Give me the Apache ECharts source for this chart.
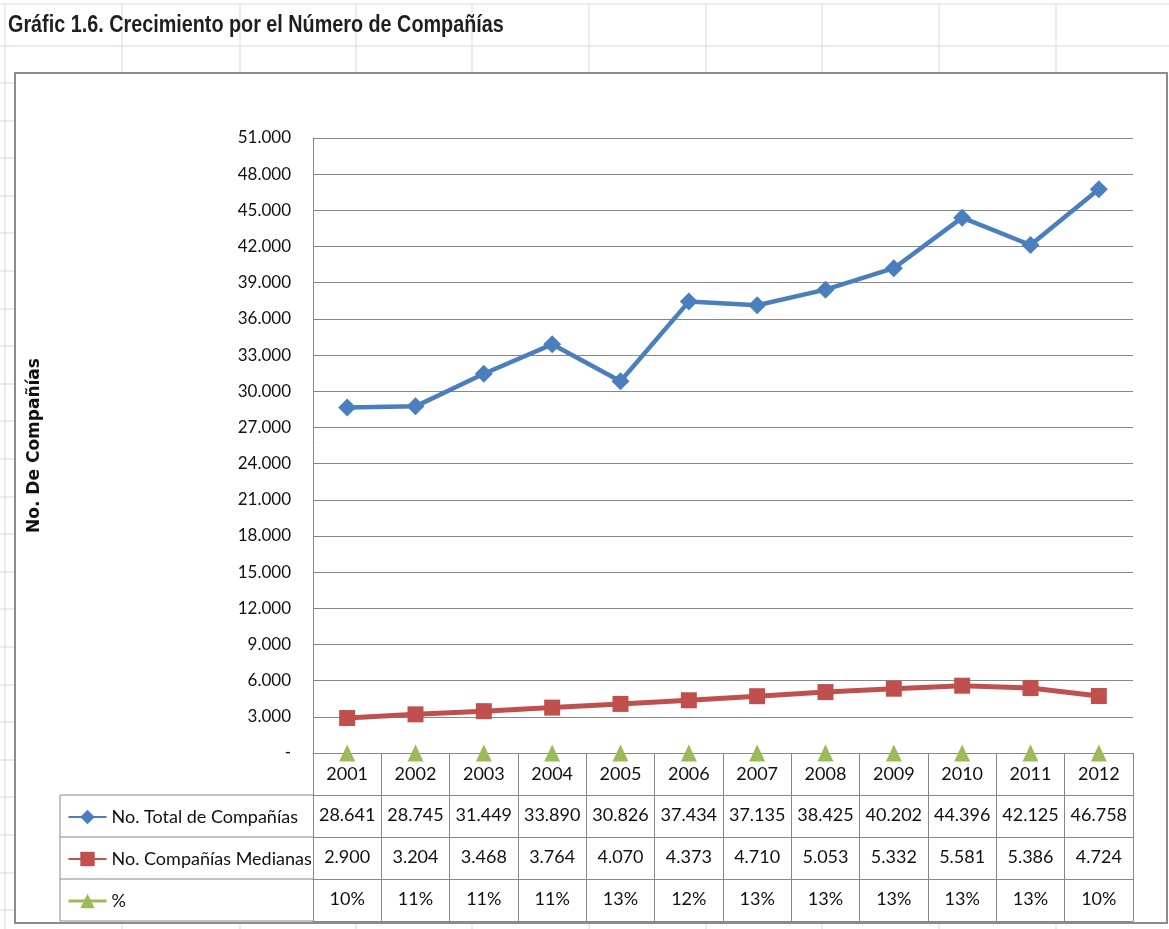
<!DOCTYPE html>
<html>
<head>
<meta charset="utf-8">
<script src="https://cdn.jsdelivr.net/npm/echarts@6/dist/echarts.min.js"></script>
<style>html,body{margin:0;padding:0;background:#fff}#c{width:1169px;height:929px}</style>
</head>
<body>
<div id="c"></div>
<script>
// ---- data ----
const years = ['2001','2002','2003','2004','2005','2006','2007','2008','2009','2010','2011','2012'];
const totalCompanias = [28641, 28745, 31449, 33890, 30826, 37434, 37135, 38425, 40202, 44396, 42125, 46758];
const medianas = [2900, 3204, 3468, 3764, 4070, 4373, 4710, 5053, 5332, 5581, 5386, 4724];
const pct = [0.10, 0.11, 0.11, 0.11, 0.13, 0.12, 0.13, 0.13, 0.13, 0.13, 0.13, 0.10];
const seriesNames = ['No. Total de Compañías', 'No. Compañías Medianas', '%'];
const titleText = 'Gráfic 1.6. Crecimiento por el Número de Compañías';
const yAxisName = 'No. De Compañías';

// ---- layout / style ----
const W = 1169, H = 929;
const G = {left: 313, right: 1133, top: 138, bottom: 753};
const ROW = 42;
const TABLE_LEFT = 60;
const gray = '#878787';
const BLUE = '#4a7ebd', RED = '#c0504d', GREEN = '#9bbb59';
const FONT = 'Lato, "Liberation Sans", sans-serif';

function fmt(v) { return v === 0 ? '-' : String(v).replace(/\B(?=(\d{3})+(?!\d))/g, '.'); }
function fmtPct(v) { return Math.round(v * 100) + '%'; }

const chart = echarts.init(document.getElementById('c'), null, {renderer: 'canvas'});

function tableAxis(offset, formatter, showLabel) {
  return {
    type: 'category', data: years, position: 'bottom', offset: offset,
    boundaryGap: true,
    axisLine: {show: true, lineStyle: {color: gray, width: 1}},
    axisTick: {show: false},
    axisLabel: {show: showLabel, interval: 0, margin: 11, fontFamily: FONT, fontSize: 18, color: '#111',
      formatter: formatter}
  };
}

// decorative Excel sheet lines
const deco = [];
const sheetLine = '#d6d9df';
[4, 46].forEach(y => deco.push({type: 'line', shape: {x1: 0, y1: y, x2: W, y2: y}, style: {stroke: sheetLine, lineWidth: 1}, silent: true}));
[122, 240, 356, 472, 589, 706, 822, 939, 1056].forEach(x => {
  deco.push({type: 'line', shape: {x1: x, y1: 4, x2: x, y2: 73}, style: {stroke: sheetLine, lineWidth: 1}, silent: true});
  deco.push({type: 'line', shape: {x1: x, y1: 923, x2: x, y2: H}, style: {stroke: sheetLine, lineWidth: 1}, silent: true});
});
deco.push({type: 'line', shape: {x1: 5, y1: 4, x2: 5, y2: H}, style: {stroke: sheetLine, lineWidth: 1}, silent: true});
for (let y = 83; y < H; y += 37.6) {
  deco.push({type: 'line', shape: {x1: 0, y1: Math.round(y), x2: 15, y2: Math.round(y)}, style: {stroke: sheetLine, lineWidth: 1}, silent: true});
}
// chart frame
deco.push({type: 'rect', shape: {x: 15, y: 73, width: 1152, height: 850}, style: {fill: null, stroke: '#8c8c8c', lineWidth: 2}, silent: true});
// data table legend column lines
for (let k = 1; k <= 4; k++) {
  const y = G.bottom + k * ROW;
  deco.push({type: 'line', shape: {x1: TABLE_LEFT, y1: y, x2: G.left, y2: y}, style: {stroke: gray, lineWidth: 1}, silent: true});
}
deco.push({type: 'line', shape: {x1: TABLE_LEFT, y1: G.bottom + ROW, x2: TABLE_LEFT, y2: G.bottom + 4 * ROW}, style: {stroke: gray, lineWidth: 1}, silent: true});
// title (condensed bold look)
deco.push({
  type: 'text', left: 8, top: 14, scaleX: 0.86, silent: true,
  style: {text: titleText, font: 'bold 23px "Liberation Sans", Arial, sans-serif', fill: '#1f1f1f'}
});

const option = {
  backgroundColor: '#fff',
  animation: false,
  grid: {left: G.left, right: W - G.right, top: G.top, bottom: H - G.bottom, containLabel: false},
  legend: {
    orient: 'vertical', left: 62, top: G.bottom + ROW + 6,
    itemWidth: 38, itemHeight: 18, itemGap: 20,
    selectedMode: false,
    textStyle: {fontFamily: FONT, fontSize: 18, color: '#111', lineHeight: 22},
    data: [
      {name: seriesNames[0]},
      {name: seriesNames[1]},
      {name: seriesNames[2], lineStyle: {opacity: 1, width: 3, color: GREEN}}
    ]
  },
  xAxis: [
    {
      type: 'category', data: years, position: 'bottom', boundaryGap: true, z: 3,
      axisLine: {show: true, lineStyle: {color: gray, width: 1}},
      axisTick: {show: true, interval: 0, length: 4 * ROW, lineStyle: {color: gray, width: 1}},
      axisLabel: {interval: 0, margin: 12, fontFamily: FONT, fontSize: 18, color: '#111'}
    },
    tableAxis(ROW, (v, i) => fmt(totalCompanias[i]), true),
    tableAxis(2 * ROW, (v, i) => fmt(medianas[i]), true),
    tableAxis(3 * ROW, (v, i) => fmtPct(pct[i]), true),
    tableAxis(4 * ROW, null, false)
  ],
  yAxis: {
    type: 'value', min: 0, max: 51000, interval: 3000,
    name: yAxisName, nameLocation: 'middle', nameRotate: 90, nameGap: 270,
    nameTextStyle: {fontFamily: '"DejaVu Sans", sans-serif', fontWeight: 'bold', fontSize: 17, color: '#111'},
    axisLine: {show: true, lineStyle: {color: gray, width: 1}},
    axisTick: {show: false},
    splitLine: {show: true, lineStyle: {color: gray, width: 1}},
    axisLabel: {margin: 22, fontFamily: FONT, fontSize: 17, color: '#111', formatter: fmt}
  },
  series: [
    {
      name: seriesNames[0], type: 'line', data: totalCompanias, z: 4,
      symbol: 'diamond', symbolSize: 18,
      itemStyle: {color: BLUE}, lineStyle: {color: BLUE, width: 4.5}
    },
    {
      name: seriesNames[1], type: 'line', data: medianas, z: 4,
      symbol: 'rect', symbolSize: 16,
      itemStyle: {color: RED}, lineStyle: {color: RED, width: 5}
    },
    {
      name: seriesNames[2], type: 'line', data: pct, z: 4,
      symbol: 'triangle', symbolSize: [16, 17],
      itemStyle: {color: GREEN}, lineStyle: {color: GREEN, width: 1, opacity: 0}
    }
  ],
  graphic: deco
};
chart.setOption(option);
</script>
</body>
</html>
